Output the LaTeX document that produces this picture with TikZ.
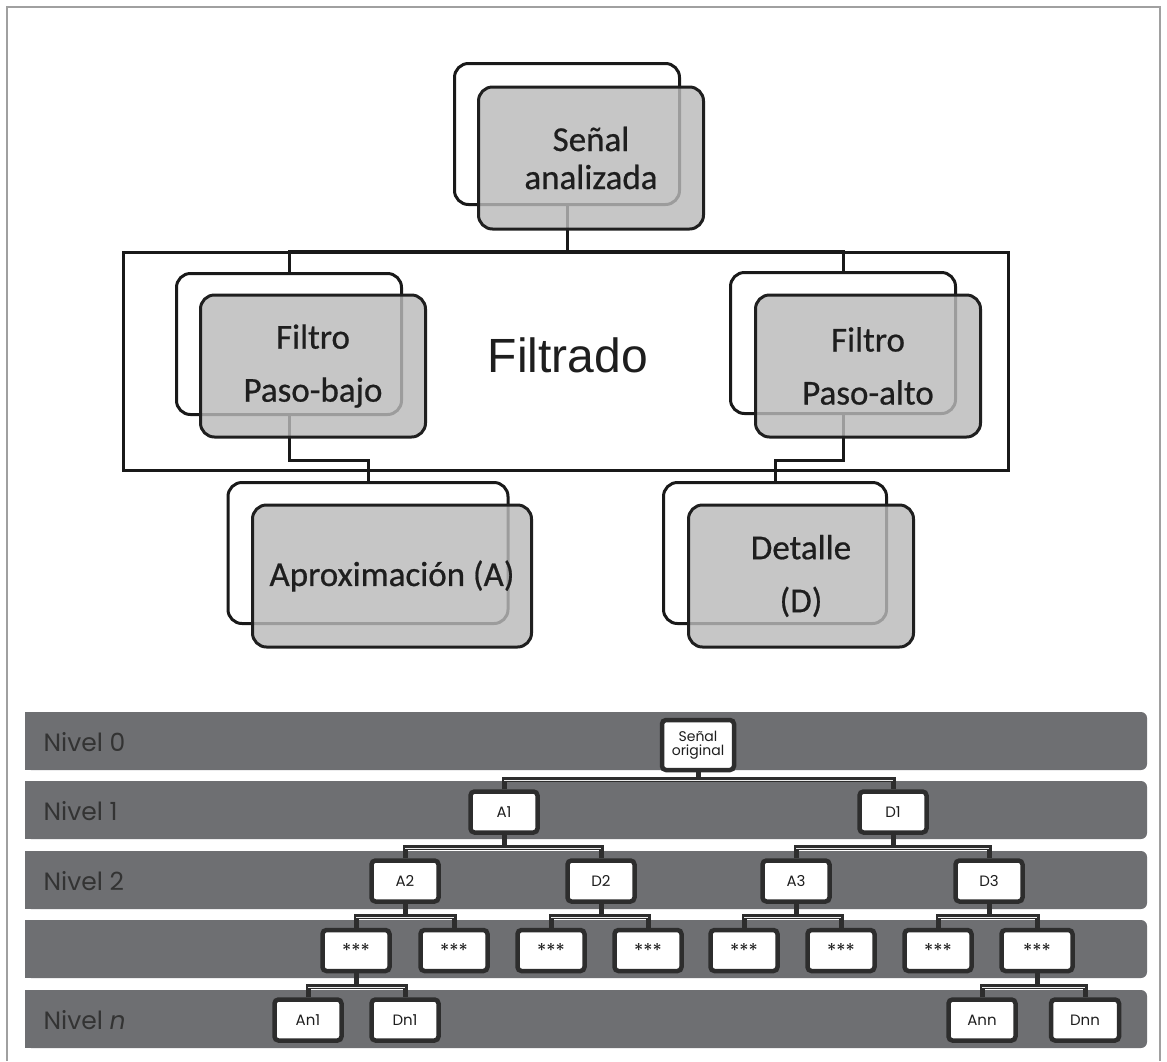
\documentclass[tikz,border=0pt]{standalone}
\usepackage{fontspec}
\setmainfont{Carlito}
\newfontfamily\carl{Carlito}[FakeBold=0.6]
\newfontfamily\arialf{Liberation Sans}
\newfontfamily\gothic{Poppins}
\definecolor{bandc}{RGB}{110,111,114}
\definecolor{ink}{RGB}{30,30,30}
\definecolor{tbord}{RGB}{45,45,45}
\definecolor{frontfill}{RGB}{186,186,186}
\definecolor{framec}{RGB}{160,160,160}
\begin{document}
\begin{tikzpicture}[x=1pt,y=-1pt,
  backbox/.style={draw=black!90, line width=3pt, rounded corners=14pt, fill=white,
    minimum width=225pt, minimum height=141pt, inner sep=0pt},
  frontbox/.style={draw=black!88, line width=3pt, rounded corners=14pt, fill=frontfill,
    fill opacity=0.82, text opacity=1, minimum width=225pt, minimum height=142pt,
    inner sep=0pt, align=center, text=ink, font=\carl\fontsize{35}{53}\selectfont},
  conn/.style={draw=black!90, line width=3pt},
  band/.style={fill=bandc, draw=none},
  lvl/.style={anchor=west, text=black!80, font=\gothic\fontsize{25}{25}\selectfont},
  tnode/.style={draw=tbord, line width=4.5pt, fill=white, rounded corners=4pt,
    minimum width=67pt, minimum height=41pt, inner sep=0pt, text=ink,
    font=\gothic\fontsize{15}{16}\selectfont, align=center},
  star/.style={tnode, font=\gothic\fontsize{19}{19}\selectfont},
  tconn/.style={draw=tbord, line width=5pt},
  barhl/.style={draw=white!85!gray, line width=1.2pt}
]
\useasboundingbox (0,0) rectangle (1167,1061);
\fill[white] (0,0) rectangle (1167,1061);
% outer frame
\draw[framec, line width=2pt] (7,1061) -- (7,7) -- (1160,7) -- (1160,1061);

% ---------- top part: back boxes ----------
\node[backbox] (sab) at (567,134) {};
\node[backbox] (lpb) at (289,344) {};
\node[backbox] (hpb) at (843,343) {};
\node[backbox, minimum width=280pt] (apb) at (368,553) {};
\node[backbox, minimum width=223pt] (dtb) at (775,553) {};

% Filtrado frame
\draw[conn] (123,252) rectangle (1008,470);
\node[font=\arialf\fontsize{48}{48}\selectfont, text=ink] (filt) at (568,355) {Filtrado};

% connectors
\draw[conn] (sab.south) -- (sab.south |- 0,251) -| (lpb.north);
\draw[conn] (sab.south |- 0,251) -| (hpb.north);
\draw[conn] (lpb.south) -- (lpb.south |- 0,460) -| (apb.north);
\draw[conn] (hpb.south) -- (hpb.south |- 0,460) -| (dtb.north);

% front boxes
\node[frontbox, font=\carl\fontsize{35}{38}\selectfont] (saf) at (591,158) {Señal\\analizada};
\node[frontbox] (lpf) at (313,366) {Filtro\\Paso-bajo};
\node[frontbox] (hpf) at (868,366) {Filtro\\Paso-alto};
\node[frontbox, minimum width=279pt] (apf) at (392,576) {Aproximación (A)};
\node[frontbox] (dtf) at (801,576) {Detalle\\(D)};

% ---------- bottom part: bands ----------
\foreach \yy in {712,781,851,920,990} {
  \fill[band, rounded corners=6pt] (25,\yy) rectangle (1147,\yy+58);
  \fill[band] (25,\yy) rectangle (80,\yy+58);
}
\node[lvl] (l0) at (40,742) {Nivel 0};
\node[lvl] (l1) at (40,811) {Nivel 1};
\node[lvl] (l2) at (40,881) {Nivel 2};
\node[lvl] (ln) at (40,1020) {Nivel \textit{n}};

% tree nodes
\node[tnode, minimum width=72pt, minimum height=50pt, font=\gothic\fontsize{14}{14}\selectfont] (so) at (698,745) {Señal\\original};
\node[tnode] (a1) at (504,812) {A1};
\node[tnode] (d1) at (893,812) {D1};
\node[tnode] (a2) at (405,881) {A2};
\node[tnode] (d2) at (601,881) {D2};
\node[tnode] (a3) at (796,881) {A3};
\node[tnode] (d3) at (989,881) {D3};
\node[star] (s1) at (356,950.5) {***};
\node[star] (s2) at (454,950.5) {***};
\node[star] (s3) at (551,950.5) {***};
\node[star] (s4) at (648,950.5) {***};
\node[star] (s5) at (744,950.5) {***};
\node[star] (s6) at (841,950.5) {***};
\node[star] (s7) at (938,950.5) {***};
\node[star, minimum width=71pt] (s8) at (1037,950.5) {***};
\node[tnode] (an1) at (308,1020) {An1};
\node[tnode] (dn1) at (405,1020) {Dn1};
\node[tnode] (ann) at (982,1020) {Ann};
\node[tnode, minimum width=68pt] (dnn) at (1085,1020) {Dnn};

% tree connectors
\newcommand\treepair[4]{%
  \draw[tconn] (#1.south) -- (#1.south |- 0,#2);
  \draw[tconn, line join=miter] (#3.north) |- (#4.north |- 0,#2) -- (#4.north);
  \draw[barhl] (#3.north |- 0,#2+1.4) -- (#4.north |- 0,#2+1.4);
}
\treepair{so}{779}{a1}{d1}
\treepair{a1}{847}{a2}{d2}
\treepair{d1}{847}{a3}{d3}
\treepair{a2}{916}{s1}{s2}
\treepair{d2}{916}{s3}{s4}
\treepair{a3}{916}{s5}{s6}
\treepair{d3}{916}{s7}{s8}
\treepair{s1}{986}{an1}{dn1}
\treepair{s8}{986}{ann}{dnn}
\end{tikzpicture}
\end{document}
